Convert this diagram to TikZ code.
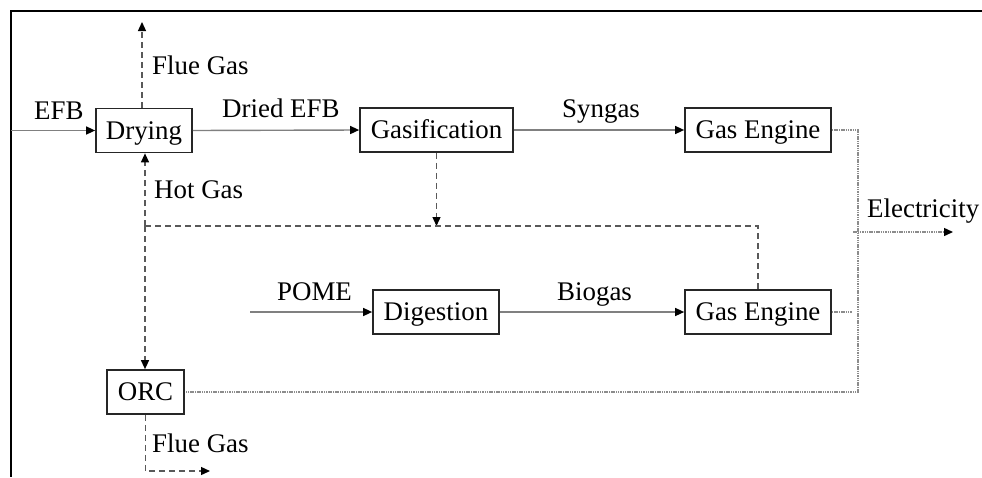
\documentclass[tikz,border=0pt]{standalone}
\usepackage{fontspec}
\setmainfont{Liberation Serif}
\usetikzlibrary{arrows.meta}
\begin{document}
\begin{tikzpicture}[x=1pt,y=-1pt,
  font=\fontsize{26.9}{32}\selectfont,
  box/.style={draw=black!85, line width=1.7pt, minimum height=44pt, inner sep=0pt,
              text height=17.8pt, text depth=0pt, anchor=center},
  tipA/.style={-{Triangle[length=9pt,width=8pt,color=black]}},
  flow/.style={draw=black!50, line width=1.4pt, tipA},
  gasflow/.style={draw=black!65, line width=1.3pt, dash pattern=on 6pt off 4pt},
  elec/.style={draw=black!45, line width=1.4pt, dash pattern=on 1.5pt off 0.8pt},
  lbl/.style={anchor=base west, inner sep=0pt}]
\useasboundingbox (0,0) rectangle (982,477);
\fill[white] (0,0) rectangle (982,477);
% frame
\draw[line width=2.2pt] (982,11) -- (11,11) -- (11,477);
% boxes
\node[box, minimum width=96pt]  (dry)   at (144,130.5) {Drying};
\node[box, minimum width=153pt] (gasif) at (436.5,130) {Gasification};
\node[box, minimum width=146pt] (ge1)   at (758,130)   {Gas Engine};
\node[box, minimum width=126pt] (dig)   at (436,312)   {Digestion};
\node[box, minimum width=146pt] (ge2)   at (758,312)   {Gas Engine};
\node[box, minimum width=77pt]  (orc)   at (145.5,392) {ORC};
% coordinates
\coordinate (efbin) at (11,130.5);
\coordinate (pomein) at (250,312);
\coordinate (fluetop) at (142,22);
\coordinate (hj) at (145,226);
\coordinate (fe) at (210,471);
\coordinate (bus) at (858,130);
\coordinate (ge2end) at (852,312);
\coordinate (elA) at (853,232);
\coordinate (elB) at (953,232);
% solid flows
\draw[flow] (efbin) -- (dry.west);
\draw[flow] (dry.east) -- (gasif.west);
\draw[flow] (gasif.east) -- (ge1.west);
\draw[flow] (pomein) -- (dig.west);
\draw[flow] (dig.east) -- (ge2.west);
% dashed gas flows
\draw[gasflow, tipA] (dry.north -| fluetop) -- (fluetop);
\draw[gasflow, tipA] (hj) -- (hj |- dry.south);
\draw[gasflow, tipA] (hj) -- (hj |- orc.north);
\draw[gasflow, tipA] (gasif.south) -- (gasif.south |- hj);
\draw[gasflow] (hj) -- (ge2.north |- hj) -- (ge2.north);
\draw[gasflow, tipA] (orc.south) |- (fe);
% electricity
\draw[elec] (ge1.east) -- (bus) |- (orc.east);
\draw[elec] (ge2.east) -- (ge2end);
\draw[elec, tipA] (elA) -- (elB);
% labels
\node[lbl] (lefb)  at (34,119)  {EFB};
\node[lbl] (lflue) at (152,74)  {Flue Gas};
\node[lbl] (ldefb) at (222,117) {Dried EFB};
\node[lbl] (lhot)  at (154,198) {Hot Gas};
\node[lbl] (lsyn)  at (562,117) {Syngas};
\node[lbl] (lel)   at (867,217) {Electricity};
\node[lbl] (lpome) at (277,300) {POME};
\node[lbl] (lbio)  at (557,300) {Biogas};
\node[lbl] (lflue2) at (152,452) {Flue Gas};
\end{tikzpicture}
\end{document}
